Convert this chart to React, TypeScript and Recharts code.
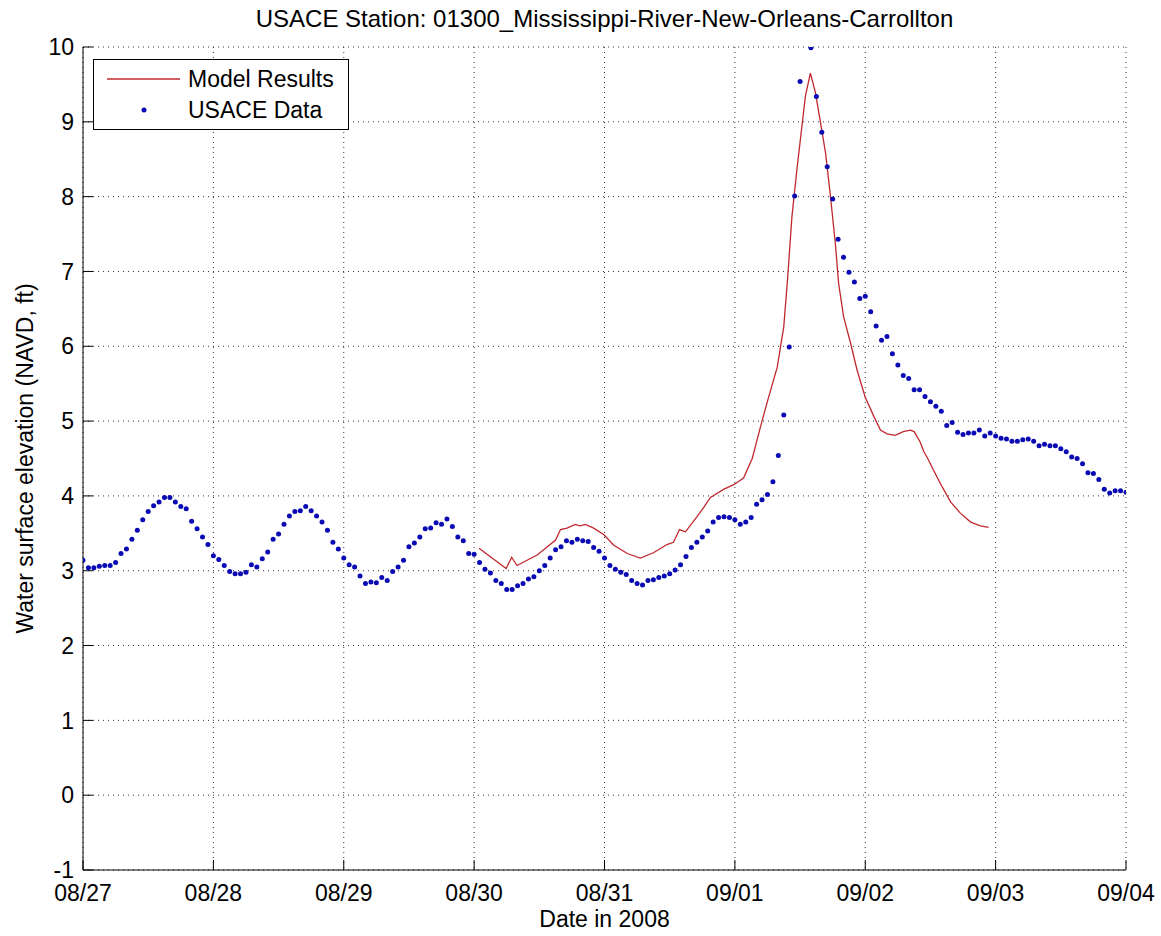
import {
  ComposedChart,
  Line,
  Scatter,
  XAxis,
  YAxis,
  CartesianGrid,
  Legend,
} from 'recharts'

// hours since 08/27 00:00
const dateLabels = ['08/27', '08/28', '08/29', '08/30', '08/31', '09/01', '09/02', '09/03', '09/04']
const dateTicks = [0, 24, 48, 72, 96, 120, 144, 168, 192]
const elevTicks = [-1, 0, 1, 2, 3, 4, 5, 6, 7, 8, 9, 10]

// USACE gauge, hourly from 08/27 00:00 (hour 133 sits above the frame)
const usaceValues = [
  3.14, 3.04, 3.04, 3.06, 3.07, 3.07, 3.11, 3.23, 3.29, 3.42, 3.54, 3.68,
  3.79, 3.87, 3.92, 3.98, 3.98, 3.92, 3.86, 3.83, 3.66, 3.56, 3.45, 3.35,
  3.2, 3.15, 3.07, 2.99, 2.96, 2.96, 2.98, 3.08, 3.05, 3.16, 3.25, 3.42,
  3.49, 3.62, 3.73, 3.79, 3.8, 3.86, 3.8, 3.73, 3.65, 3.54, 3.38, 3.29,
  3.17, 3.08, 3.05, 2.93, 2.83, 2.85, 2.84, 2.91, 2.87, 2.99, 3.05, 3.14,
  3.32, 3.37, 3.45, 3.56, 3.57, 3.64, 3.62, 3.69, 3.59, 3.45, 3.4, 3.23,
  3.22, 3.11, 3.02, 2.97, 2.87, 2.83, 2.75, 2.75, 2.8, 2.83, 2.89, 2.92,
  3.0, 3.07, 3.17, 3.28, 3.32, 3.4, 3.38, 3.42, 3.4, 3.39, 3.31, 3.26,
  3.17, 3.07, 3.02, 2.98, 2.95, 2.87, 2.83, 2.81, 2.87, 2.88, 2.91, 2.93,
  2.96, 3.01, 3.08, 3.19, 3.31, 3.38, 3.45, 3.53, 3.65, 3.71, 3.72, 3.71,
  3.68, 3.62, 3.65, 3.71, 3.89, 3.95, 4.02, 4.19, 4.54, 5.08, 5.99, 8.01,
  9.54, 10.25, 9.99, 9.34, 8.86, 8.4, 7.97, 7.43, 7.19, 6.99, 6.86, 6.64,
  6.67, 6.46, 6.27, 6.08, 6.13, 5.9, 5.75, 5.61, 5.57, 5.42, 5.42, 5.33,
  5.26, 5.2, 5.13, 4.94, 4.98, 4.85, 4.82, 4.84, 4.84, 4.88, 4.8, 4.84,
  4.8, 4.77, 4.76, 4.73, 4.73, 4.75, 4.76, 4.73, 4.67, 4.69, 4.67, 4.67,
  4.63, 4.59, 4.52, 4.5, 4.43, 4.31, 4.3, 4.22, 4.09, 4.04, 4.07, 4.07,
  4.05,
]

// model run, read at the hours where the curve bends
const modelHours = [
  72.9, 77.9, 78.9, 79.9, 83.6, 84.8, 87, 87.9, 89.1, 90.6, 91.5, 92.5, 94,
  95.9, 97.7, 100.2, 102.6, 105, 107.5, 108.7, 109.8, 110.9, 113, 114.3,
  115.5, 118, 119.8, 121.6, 123.2, 124.7, 125.9, 127.8, 129, 129.7, 130.5,
  131.4, 132.4, 133, 133.9, 134.8, 135.7, 136.7, 137.6, 138.5, 139.1, 140,
  141.3, 142.5, 144, 145.6, 146.8, 148, 149.5, 151, 152.3, 153, 154.1, 154.8,
  155.5, 156.6, 157.8, 159.7, 161.5, 163.4, 165.2, 166.7,
]
const modelValues = [
  3.3, 3.03, 3.18, 3.07, 3.21, 3.28, 3.41, 3.55, 3.57, 3.62, 3.6, 3.62, 3.57,
  3.48, 3.34, 3.23, 3.17, 3.24, 3.35, 3.38, 3.55, 3.52, 3.72, 3.85, 3.98,
  4.09, 4.15, 4.24, 4.5, 4.92, 5.24, 5.72, 6.26, 6.9, 7.73, 8.35, 8.98, 9.35,
  9.65, 9.4, 9.02, 8.58, 8.0, 7.37, 6.84, 6.4, 6.04, 5.68, 5.32, 5.06, 4.88,
  4.83, 4.81, 4.86, 4.88, 4.86, 4.72, 4.59, 4.5, 4.34, 4.17, 3.92, 3.77,
  3.65, 3.6, 3.58,
]

const usaceData = usaceValues.map((v, i) => ({ t: i, v }))
const modelData = modelHours.map((t, i) => ({ t, v: modelValues[i] }))

const FONT = '"Liberation Sans", Arial, sans-serif'
const RED = '#c0282e'
const BLUE = '#0a0ab4'

function LegendBox() {
  return (
    <svg width={256} height={71} style={{ display: 'block' }}>
      <rect x={0.5} y={0.5} width={255} height={70} fill="#fff" stroke="#000" />
      <line x1={14} y1={20} x2={87} y2={20} stroke={RED} strokeWidth={1.3} />
      <text x={95} y={28} fontSize={23} fontFamily={FONT} fill="#000">
        Model Results
      </text>
      <circle cx={51} cy={51} r={2.5} fill={BLUE} />
      <text x={95} y={59} fontSize={23} fontFamily={FONT} fill="#000">
        USACE Data
      </text>
    </svg>
  )
}

export default function App() {
  const tickStyle = { fontSize: 23, fill: '#000', fontFamily: FONT }

  return (
    <div style={{ position: 'absolute', left: 0, top: 0, width: 1161, height: 936, background: '#fff' }}>
      <div
        style={{
          position: 'absolute',
          left: 0,
          width: 1209,
          top: 5,
          textAlign: 'center',
          fontFamily: FONT,
          fontSize: 24,
          lineHeight: '27px',
          color: '#000',
        }}
      >
        USACE Station: 01300_Mississippi-River-New-Orleans-Carrollton
      </div>
      <ComposedChart
        width={1161}
        height={936}
        margin={{ top: 47, right: 35, bottom: 0, left: 0 }}
        style={{ position: 'absolute', left: 0, top: 0 }}
      >
        <CartesianGrid stroke="#333" strokeDasharray="1 4" />
        <XAxis
          dataKey="t"
          type="number"
          domain={[0, 192]}
          ticks={dateTicks}
          allowDataOverflow
          height={66}
          tickFormatter={(v) => dateLabels[Math.round(v / 24)]}
          tick={tickStyle}
          tickSize={-10}
          tickMargin={25}
          stroke="#000"
          label={{
            value: 'Date in 2008',
            position: 'insideBottom',
            offset: 9,
            style: { fontSize: 23, fill: '#000', fontFamily: FONT },
          }}
        />
        <XAxis
          xAxisId="top"
          orientation="top"
          type="number"
          domain={[0, 192]}
          ticks={dateTicks}
          allowDataOverflow
          height={0}
          tick={false}
          tickSize={-10}
          stroke="#000"
        />
        <YAxis
          dataKey="v"
          type="number"
          domain={[-1, 10]}
          ticks={elevTicks}
          allowDataOverflow
          width={83}
          tick={tickStyle}
          tickSize={-10}
          tickMargin={19}
          stroke="#000"
          label={{
            value: 'Water surface elevation (NAVD, ft)',
            angle: -90,
            position: 'insideLeft',
            offset: 25,
            style: { fontSize: 23, fill: '#000', fontFamily: FONT, textAnchor: 'middle' },
          }}
        />
        <YAxis
          yAxisId="right"
          orientation="right"
          type="number"
          domain={[-1, 10]}
          ticks={elevTicks}
          allowDataOverflow
          width={0}
          tick={false}
          tickSize={-10}
          stroke="#000"
        />
        <Legend
          layout="horizontal"
          verticalAlign="middle"
          align="center"
          content={() => <LegendBox />}
          wrapperStyle={{ left: 93, top: 59, width: 256, height: 71 }}
        />
        <Line
          data={modelData}
          dataKey="v"
          type="linear"
          stroke={RED}
          strokeWidth={1.3}
          dot={false}
          isAnimationActive={false}
        />
        <Scatter
          data={usaceData}
          dataKey="v"
          fill={BLUE}
          isAnimationActive={false}
          shape={(p: any) => <circle cx={p.cx} cy={p.cy} r={2.5} fill={BLUE} />}
        />
      </ComposedChart>
    </div>
  )
}
